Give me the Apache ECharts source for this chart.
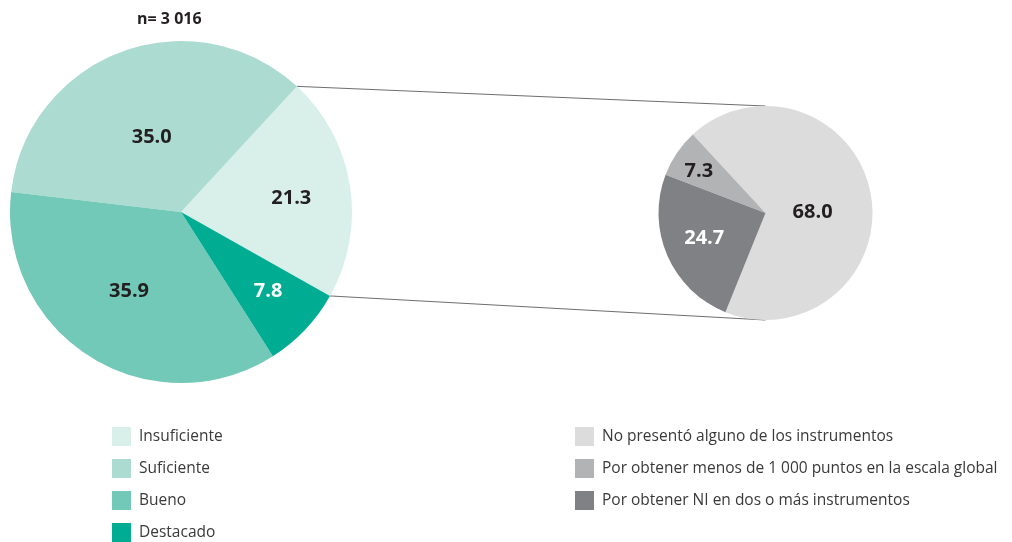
<!DOCTYPE html>
<html>
<head>
<meta charset="utf-8">
<script src="https://cdn.jsdelivr.net/npm/echarts@6/dist/echarts.min.js"></script>
<style>
  html, body { margin: 0; padding: 0; background: #fff; }
  #chart { width: 1012px; height: 542px; }
</style>
</head>
<body>
<div id="chart"></div>
<script>
// Main breakdown of results (percent)
const mainCategories = ['Insuficiente', 'Suficiente', 'Bueno', 'Destacado'];
const mainValues = [21.3, 35.0, 35.9, 7.8];

// Breakdown of the "Insuficiente" group (percent)
const detailCategories = [
  'No presentó alguno de los instrumentos',
  'Por obtener menos de 1 000 puntos en la escala global',
  'Por obtener NI en dos o más instrumentos'
];
const detailValues = [68.0, 7.3, 24.7];

const sampleSize = 'n= 3 016';

// Colours
const mainColors = ['#d9efe9', '#acdcd1', '#72c9b7', '#00ad93'];
const detailColors = ['#dcdcdd', '#b2b3b5', '#808184'];
const mainLabelColors = ['#231f20', '#231f20', '#231f20', '#ffffff'];
const detailLabelColors = ['#231f20', '#231f20', '#ffffff'];

// Pie geometry (pixels / degrees, counter-clockwise from 3 o'clock)
const MAIN = { cx: 181, cy: 212, r: 171, start: 330.6 };
const DETAIL = { cx: 765.5, cy: 213, r: 107, start: 248 };
// Value label placement: fraction of the radius and a small turn from the slice middle (deg)
const mainLabelRadius = [0.65, 0.468, 0.552, 0.69];
const mainLabelTurn = [-1.8, 1.2, -1.3, 1.0];
const detailLabelRadius = [0.44, 0.737, 0.62];
const detailLabelTurn = [-9, 1.8, -1];

function boundaryAngles(g, values) {
  const total = values.reduce((a, b) => a + b, 0);
  const out = [g.start];
  let acc = 0;
  values.forEach(v => { acc += v; out.push(g.start + 360 * acc / total); });
  return out;
}
function pointAt(g, deg, frac) {
  const a = deg * Math.PI / 180;
  return [g.cx + Math.cos(a) * g.r * frac, g.cy - Math.sin(a) * g.r * frac];
}
function labelPlacer(g, values, fracs, turns) {
  const b = boundaryAngles(g, values);
  return function (params) {
    const i = params.dataIndex;
    const p = pointAt(g, (b[i] + b[i + 1]) / 2 + turns[i], fracs[i]);
    return { x: p[0], y: p[1], align: 'center', verticalAlign: 'middle' };
  };
}

const FONT = '"Open Sans", "Noto Sans", sans-serif';

function pieSeries(name, g, cats, vals, colors, labelColors, fracs, turns) {
  return {
    type: 'pie',
    name: name,
    center: [g.cx, g.cy],
    radius: [0, g.r],
    startAngle: g.start,
    clockwise: false,
    silent: true,
    avoidLabelOverlap: false,
    itemStyle: { borderWidth: 0 },
    emphasis: { disabled: true },
    labelLine: { show: false },
    label: {
      show: true,
      position: 'inside',
      fontFamily: FONT,
      fontWeight: 'bold',
      fontSize: 20,
      formatter: p => p.value.toFixed(1)
    },
    labelLayout: labelPlacer(g, vals, fracs, turns),
    data: cats.map((c, i) => ({
      name: c,
      value: vals[i],
      itemStyle: { color: colors[i] },
      label: { color: labelColors[i] }
    }))
  };
}

// Connector lines from the "Insuficiente" slice edges to the detail pie
const mainB = boundaryAngles(MAIN, mainValues);
const topFrom = pointAt(MAIN, mainB[1], 1);
const bottomFrom = pointAt(MAIN, mainB[0], 1);
const topTo = pointAt(DETAIL, 90, 1);
const bottomTo = pointAt(DETAIL, 270, 1);

const legendCommon = {
  orient: 'vertical',
  icon: 'rect',
  itemWidth: 19,
  itemHeight: 19,
  itemGap: 13,
  padding: 0,
  selectedMode: false,
  textStyle: { fontFamily: FONT, fontSize: 15.5, color: '#3a3a3a', padding: [0, 0, 0, 3] }
};

const chart = echarts.init(document.getElementById('chart'), null, { renderer: 'canvas' });
chart.setOption({
  animation: false,
  backgroundColor: '#ffffff',
  title: {
    text: sampleSize,
    left: 137,
    top: 11,
    padding: 0,
    textStyle: { fontFamily: FONT, fontWeight: 'bold', fontSize: 16, color: '#231f20' }
  },
  legend: [
    Object.assign({}, legendCommon, { data: mainCategories, left: 112, top: 427 }),
    Object.assign({}, legendCommon, { data: detailCategories, left: 575, top: 427 })
  ],
  graphic: [
    {
      type: 'line', silent: true, z: 0,
      shape: { x1: topFrom[0], y1: topFrom[1], x2: topTo[0], y2: topTo[1] },
      style: { stroke: '#6d6e71', lineWidth: 1 }
    },
    {
      type: 'line', silent: true, z: 0,
      shape: { x1: bottomFrom[0], y1: bottomFrom[1], x2: bottomTo[0], y2: bottomTo[1] },
      style: { stroke: '#6d6e71', lineWidth: 1 }
    }
  ],
  series: [
    pieSeries('Resultados generales', MAIN, mainCategories, mainValues, mainColors, mainLabelColors, mainLabelRadius, mainLabelTurn),
    pieSeries('Desglose', DETAIL, detailCategories, detailValues, detailColors, detailLabelColors, detailLabelRadius, detailLabelTurn)
  ]
});
</script>
</body>
</html>
